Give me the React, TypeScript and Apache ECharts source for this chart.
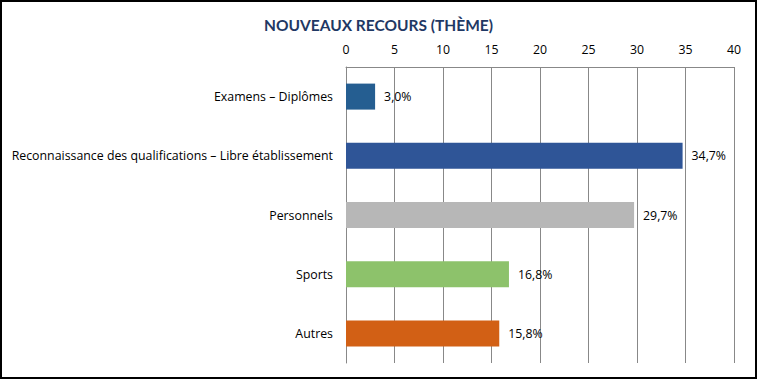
import React, { useEffect, useRef } from "react";
import * as echarts from "echarts";

const categories = [
  "Examens – Diplômes",
  "Reconnaissance des qualifications – Libre établissement",
  "Personnels",
  "Sports",
  "Autres",
];
const values = [3.0, 34.7, 29.7, 16.8, 15.8];
const colors = ["#255e91", "#2f5597", "#b7b7b7", "#8dc26b", "#d26015"];
const xTicks = { min: 0, max: 40, interval: 5 };
const title = "NOUVEAUX RECOURS (THÈME)";

export default function App() {
  const ref = useRef<HTMLDivElement>(null);
  useEffect(() => {
    document.body.style.margin = "0";
    const chart = echarts.init(ref.current!, null, { renderer: "svg" });
    chart.setOption({
      animation: false,
      textStyle: { fontFamily: "Open Sans" },
      title: {
        text: title,
        left: "center",
        top: 12,
        textStyle: { fontFamily: "Lato", fontWeight: "bold", fontSize: 15.5, color: "#1f3864" },
      },
      graphic: [
        {
          type: "rect",
          shape: { x: 1, y: 1, width: 755, height: 377 },
          style: { fill: "none", stroke: "#000", lineWidth: 2 },
          silent: true,
        },
      ],
      grid: { left: 346, right: 23, top: 67, bottom: 16 },
      xAxis: {
        type: "value",
        position: "top",
        min: xTicks.min,
        max: xTicks.max,
        interval: xTicks.interval,
        axisLine: { show: true, lineStyle: { color: "#888", width: 1 } },
        axisTick: { show: false },
        splitLine: { show: true, lineStyle: { color: "#888", width: 1 } },
        axisLabel: { color: "#000", fontSize: 12.3, margin: 12, fontFamily: "Open Sans" },
      },
      yAxis: {
        type: "category",
        inverse: true,
        data: categories,
        axisLine: { show: true, lineStyle: { color: "#888", width: 1 } },
        axisTick: { show: false },
        axisLabel: { color: "#000", fontSize: 12.35, margin: 13, fontFamily: "Open Sans" },
      },
      series: [
        {
          type: "bar",
          barWidth: 26,
          data: values.map((v, i) => ({ value: v, itemStyle: { color: colors[i] } })),
          label: {
            show: true,
            position: "right",
            distance: 9,
            color: "#000",
            fontSize: 12.3,
            fontFamily: "Open Sans",
            formatter: (p: any) => p.value.toFixed(1).replace(".", ",") + "%",
          },
        },
      ],
    });
    return () => chart.dispose();
  }, []);
  return <div ref={ref} style={{ width: 757, height: 379 }} />;
}
